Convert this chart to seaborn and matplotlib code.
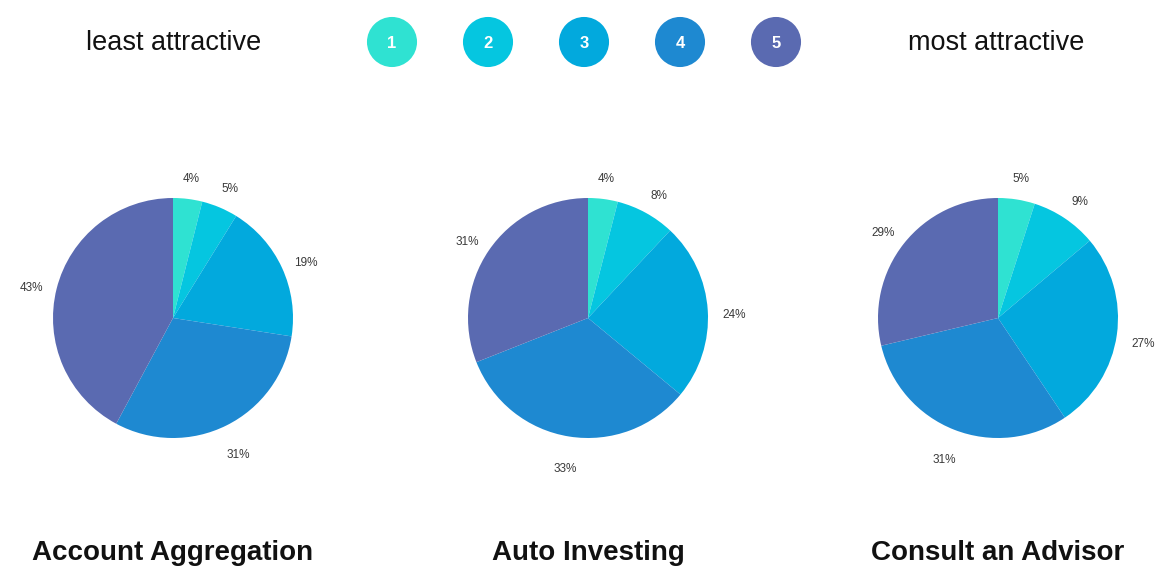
import matplotlib
matplotlib.use("Agg")
import matplotlib.pyplot as plt
import seaborn as sns
import pandas as pd

sns.set_theme(style="white")
plt.rcParams['font.family'] = ['Liberation Sans', 'DejaVu Sans']

# Data
ratings = ["1", "2", "3", "4", "5"]
colors = ["#2fe2d2", "#05c6e0", "#02a9dd", "#1e89d1", "#5a6ab1"]
titles = ["Account Aggregation", "Auto Investing", "Consult an Advisor"]
account_aggregation = [4, 5, 19, 31, 43]
auto_investing = [4, 8, 24, 33, 31]
consult_advisor = [5, 9, 27, 31, 29]
series = [account_aggregation, auto_investing, consult_advisor]

W, H = 1164, 568
fig = plt.figure(figsize=(W / 100, H / 100), dpi=100)
fig.patch.set_facecolor("white")

# Header legend as scatter on full-figure axes (pixel coords)
hax = fig.add_axes([0, 0, 1, 1])
hax.set_xlim(0, W)
hax.set_ylim(H, 0)
hax.axis("off")
legend_df = pd.DataFrame({"x": [392, 488, 584, 680, 776], "y": [42] * 5, "rating": ratings})
sns.scatterplot(data=legend_df, x="x", y="y", hue="rating", palette=colors, s=1300,
                linewidth=0, legend=False, ax=hax)
for _, r in legend_df.iterrows():
    hax.text(r.x, r.y + 1, r.rating, color="white", ha="center", va="center",
             fontsize=12, fontweight="bold")
hax.text(174, 43, "least attractive", ha="center", va="center", fontsize=19.5, color="#111111")
hax.text(996, 43, "most attractive", ha="center", va="center", fontsize=19.5, color="#111111")

centers = [173, 588, 998]
cy = 318
R = 120
for cx, vals, title in zip(centers, series, titles):
    ax = fig.add_axes([(cx - R) / W, (H - cy - R) / H, 2 * R / W, 2 * R / H])
    wedges, texts = ax.pie(vals, colors=colors, startangle=90, counterclock=False,
                           labels=[f"{v}%" for v in vals], labeldistance=1.22,
                           textprops=dict(fontsize=8.5, color="#3a3a3a"),
                           wedgeprops=dict(linewidth=0))
    for t in texts:
        t.set_ha("center")
        t.set_va("top")
    ax.set_aspect("equal")
    ax.set_xlim(-1, 1)
    ax.set_ylim(-1, 1)
    hax.text(cx, 553, title, ha="center", va="center", fontsize=20, fontweight="bold",
             color="#111111")

fig.savefig("out.png", dpi=100, facecolor="white")
